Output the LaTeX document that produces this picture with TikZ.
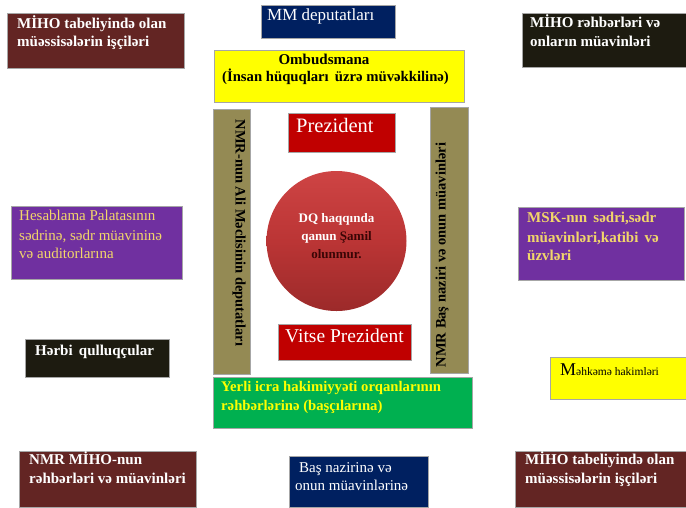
\documentclass[tikz,border=0pt]{standalone}
\usepackage{fontspec}
\setmainfont{Liberation Serif}
\definecolor{maroonc}{HTML}{632523}
\definecolor{navyc}{HTML}{002060}
\definecolor{yellowc}{HTML}{FFFF00}
\definecolor{blackc}{HTML}{1D1B10}
\definecolor{olivec}{HTML}{948A54}
\definecolor{redc}{HTML}{C00000}
\definecolor{purplec}{HTML}{7030A0}
\definecolor{greenc}{HTML}{00B050}
\definecolor{softyellow}{HTML}{F2D66A}
\definecolor{darktxt}{HTML}{3A0505}
\definecolor{ctop}{HTML}{CE4444}
\definecolor{cmid}{HTML}{BB3535}
\definecolor{cbot}{HTML}{9C2A2A}
\tikzset{
 box/.style={draw=black!35, line width=0.7pt, inner sep=0pt, outer sep=0pt, anchor=north west},
 tb/.style={inner sep=0pt, anchor=base west, font=\fontsize{15}{17}\selectfont\bfseries},
 tbs/.style={inner sep=0pt, anchor=base west, font=\fontsize{14.7}{17}\selectfont\bfseries},
 tr/.style={inner sep=0pt, anchor=base west, font=\fontsize{15}{17}\selectfont},
 big/.style={inner sep=0pt, anchor=base west, font=\fontsize{19.5}{21}\selectfont},
 ctext/.style={inner sep=0pt, anchor=base, font=\fontsize{13}{15}\selectfont\bfseries},
}
\newcommand\bx[6]{\node[box, fill=#6, minimum width={(#4-#2)*1pt}, minimum height={(#5-#3)*1pt}] (#1) at (#2,#3) {};}
\begin{document}
\begin{tikzpicture}[x=1pt,y=-1pt]
\fill[white] (0,0) rectangle (686,507);
\useasboundingbox (0,0) rectangle (686,507);

% top-left maroon
\bx{tl}{7}{13}{184}{68}{maroonc}
\node[tb, white] (tla) at (17,28) {MİHO tabeliyində olan};
\node[tb, white] (tlb) at (17,46) {müəssisələrin işçiləri};

% MM deputatlari
\bx{mm}{261}{5}{395}{38}{navyc}
\node[inner sep=0pt, anchor=base west, font=\fontsize{17}{19}\selectfont, white] (mmt) at (267,20) {MM deputatları};

% Ombudsmana
\bx{om}{214}{50}{464}{102}{yellowc}
\node[tb, anchor=base] (oma) at (324,64) {Ombudsmana};
\node[tbs] (omb) at (222,81) {(İnsan hüquqları\, üzrə müvəkkilinə)};

% top-right black
\bx{tr}{522}{13}{686}{67}{blackc}
\node[tb, white] (tra) at (530,27) {MİHO rəhbərləri və};
\node[tb, white] (trb) at (530,46) {onların müavinləri};

% left vertical olive
\bx{lv}{213}{109}{250}{374}{olivec}
\node[inner sep=0pt, font=\fontsize{14.5}{17}\selectfont\bfseries, rotate=-90] (lvt) at (239,233) {NMR-nun Ali Məclisinin deputatları};

% right vertical olive
\bx{rv}{430}{107}{468}{373}{olivec}
\node[inner sep=0pt, font=\fontsize{14.5}{17}\selectfont\bfseries, rotate=90] (rvt) at (442,255) {NMR Baş naziri və onun müavinləri};

% Prezident
\bx{pr}{288}{113}{395}{152}{redc}
\node[big, white, font=\fontsize{20.5}{22}\selectfont] (prt) at (296,132) {Prezident};

% circle
\node[circle, minimum size=140pt, inner sep=0pt, top color=ctop, bottom color=cbot, middle color=cmid] (circ) at (336.5,241) {};
\node[ctext, white] (ca) at (336.5,222) {DQ haqqında};
\node[ctext, white] (cb) at (336.5,240) {qanun \textcolor{darktxt}{Şamil}};
\node[ctext, darktxt] (cc) at (336.5,258) {olunmur.};

% Vitse Prezident
\bx{vp}{278}{324}{411}{360}{redc}
\node[big, white] (vpt) at (285,342) {Vitse Prezident};

% Yerli green
\bx{ye}{213}{377}{472}{428}{greenc}
\node[tbs, yellowc] (yea) at (221,391) {Yerli icra hakimiyyəti orqanlarının};
\node[tbs, yellowc] (yeb) at (221,410) {rəhbərlərinə (başçılarına)};

% Bas nazirine navy
\bx{bn}{289}{456}{428}{507}{navyc}
\node[tr, white] (bna) at (299,472) {Baş nazirinə və};
\node[tr, white] (bnb) at (295,490) {onun müavinlərinə};

% Hesablama purple
\bx{hp}{11}{206}{182}{279}{purplec}
\node[tr, softyellow] (hpa) at (19,220) {Hesablama Palatasının};
\node[tr, softyellow] (hpb) at (19,240) {sədrinə, sədr müavininə};
\node[tr, softyellow] (hpc) at (19,258) {və auditorlarına};

% Herbi
\bx{hq}{25}{339}{169}{377}{blackc}
\node[tb, white] (hqt) at (35,355) {Hərbi\, qulluqçular};

% MSK purple
\bx{ms}{518}{207}{684}{280}{purplec}
\node[tb, softyellow] (msa) at (527,222) {MSK-nın\, sədri,sədr};
\node[tb, softyellow] (msb) at (527,242) {müavinləri,katibi\, və};
\node[tb, softyellow] (msc) at (527,260) {üzvləri};

% Mehkeme
\bx{mh}{550}{357}{686}{399}{yellowc}
\node[inner sep=0pt, anchor=base west] (mht) at (560,375) {\fontsize{18}{20}\selectfont M\fontsize{11.5}{13}\selectfont əhkəmə hakimləri};

% NMR MIHO-nun
\bx{bl}{19}{451}{196}{507}{maroonc}
\node[tb, white] (bla) at (29,464) {NMR MİHO-nun};
\node[tb, white] (blb) at (29,483) {rəhbərləri və müavinləri};

% bottom right maroon
\bx{br}{515}{451}{686}{507}{maroonc}
\node[tb, white] (bra) at (525,464) {MİHO tabeliyində olan};
\node[tb, white] (brb) at (525,483) {müəssisələrin işçiləri};
\end{tikzpicture}
\end{document}
